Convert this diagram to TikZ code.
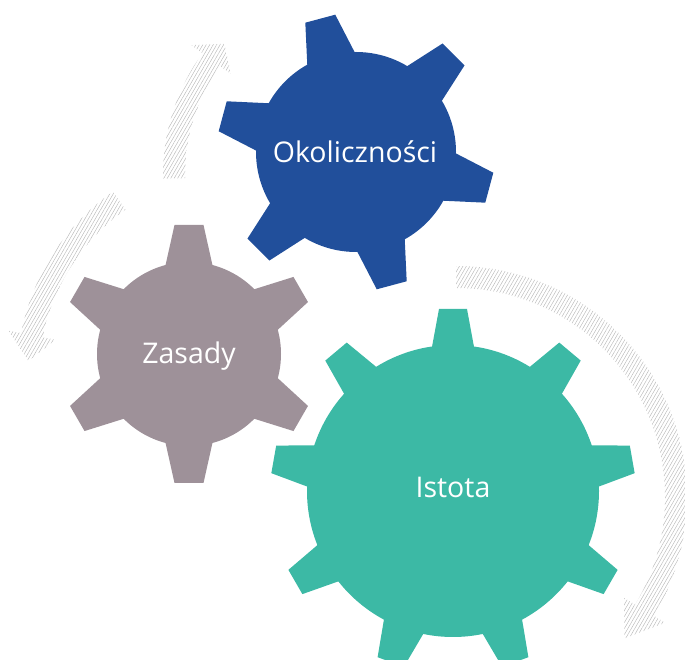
\documentclass[tikz,border=0pt]{standalone}
\usepackage{fontspec}
\setmainfont{Open Sans}
\usepackage{tikz}
\usetikzlibrary{patterns.meta}
\definecolor{okolblue}{RGB}{33,79,155}
\definecolor{zasgray}{RGB}{158,145,153}
\definecolor{istteal}{RGB}{60,185,165}

\begin{document}
\begin{tikzpicture}[x=1pt,y=1pt,
    cogtext/.style={text=white,anchor=base,inner sep=0pt,font=\fontsize{28.5}{34}\selectfont},
    hatch/.style={pattern={Lines[angle=60,distance=3pt,line width=0.45pt]},pattern color=black!28}]
    \useasboundingbox (0,0) rectangle (685,660);
    % circular arrows
    \begin{scope}[shift={(370,485)}]
    \path[hatch] (181:207) arc[start angle=181,end angle=144,radius=207] -- (144:221)
        -- (138:196) -- (144:172) -- (144:185) arc[start angle=144,end angle=181,radius=185] -- cycle;
    \end{scope}
    \begin{scope}[shift={(242,284)}]
    \path[hatch] (125:225) arc[start angle=125,end angle=169,radius=225] -- (169:238)
        -- (176:214) -- (169:190) -- (169:203) arc[start angle=169,end angle=125,radius=203] -- cycle;
    \end{scope}
    \begin{scope}[shift={(456,163)}]
    \path[hatch] (90:231) arc[start angle=90,end angle=-31,radius=231] -- (-31:244)
        -- (-40:220) -- (-31:196) -- (-31:209) arc[start angle=-31,end angle=90,radius=209] -- cycle;
    \end{scope}
    % gears
    \foreach \gx/\gy/\rb/\rt/\nt/\ga/\tw/\bw/\gc in {356/508/100/138/6/45/15.5/24/okolblue,
        189/306/92/129/6/30/14.5/23/zasgray, 453/169/146/182/9/10/14/20.5/istteal}
    {
        \fill[\gc] (\gx,\gy) circle (\rb);
        \foreach \k in {1,...,\nt}
            \fill[\gc,shift={(\gx,\gy)},rotate=\ga+\k*360/\nt]
                (\rb-10,-\bw-2) -- (\rt,-\tw) -- (\rt,\tw) -- (\rb-10,\bw+2) -- cycle;
    }
    \node[cogtext] (1) at (355,497) {Okoliczności};
    \node[cogtext] (2) at (189,296) {Zasady};
    \node[cogtext] (3) at (453,162) {Istota};
\end{tikzpicture}
\end{document}
